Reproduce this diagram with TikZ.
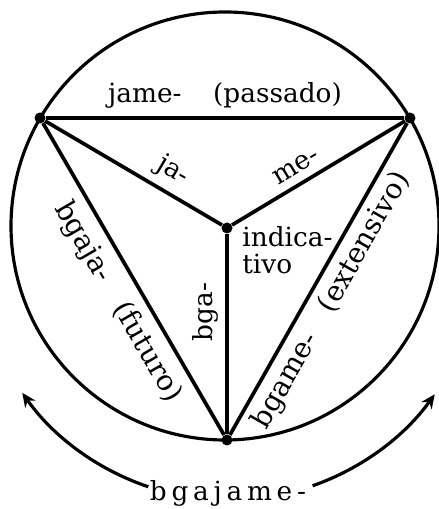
\documentclass[tikz,border=0pt]{standalone}
\usepackage{fontspec}
\setmainfont{DejaVu Serif}
\usepackage{tikz}
\usetikzlibrary{arrows.meta,positioning,calc}
\tikzset{
  lbl/.style  ={font=\fontsize{15}{15.4}\selectfont, inner sep=0pt},
  side/.style ={lbl, font=\fontsize{16}{16}\selectfont},
  edge/.style ={draw=black, line width=2.1pt},
  rim/.style  ={draw=black, line width=1.8pt},
  vtx/.style  ={circle, fill=black, inner sep=0pt, minimum size=0.22cm},
  arr/.style  ={draw=black, line width=1.8pt, -{Stealth[length=2.8mm,width=2.5mm]}},
}
\newcommand{\lsp}{\kern.18em}

\begin{document}
\begin{tikzpicture}[x=0.2mm,y=0.2mm]
  \useasboundingbox (0,0) rectangle (438,509);
  % outer circle with the three corners on it, centre point inside
  \def\R{214}
  \coordinate (o) at (225,283);
  \draw[rim] (o) circle[radius=\R];
  \node[vtx] (pa) at (40,391) {};
  \node[vtx] (pb) at (410,391) {};
  \node[vtx] (pc) at (227,69) {};
  \node[vtx] (pm) at (227,281) {};

  % ---------------- triangle sides ------------------------------------------
  \draw[edge] (pa) -- node[lbl,above=1.6mm] {jame-\hspace{1.2em}(passado)} (pb);
  \draw[edge] (pa) -- node[side,pos=.534,sloped,below=1.9mm] {bgaja-\quad(futuro)} (pc);
  \draw[edge] (pc) -- node[side,pos=.466,sloped,below=1.3mm] {bgame-\quad(extensivo)} (pb);

  % ---------------- spokes to the centre ------------------------------------
  \draw[edge] (pa) -- node[lbl,pos=.66,sloped,above=1.5mm] {ja-} (pm);
  \draw[edge] (pm) -- node[lbl,pos=.42,sloped,above=1.5mm] {me-} (pb);
  \draw[edge] (pc) -- node[lbl,pos=.61,sloped,above=1.4mm] {bga-} (pm);
  \node[lbl,anchor=north west,align=left] (ind) at (242,283) {indica-\\tivo};

  % ---------------- arc round the bottom ------------------------------------
  \coordinate (bc) at (229,262);
  \node[lbl,anchor=base] (all) at (228,9) {b\lsp g\lsp a\lsp j\lsp a\lsp m\lsp e\lsp -};
  \coordinate (lgap) at ($(bc)+(251.4:253)$);
  \coordinate (rgap) at ($(bc)+(289.3:253)$);
  \draw[arr] (lgap) arc[start angle=251.4, end angle=215.2, radius=253];
  \draw[arr] (rgap) arc[start angle=289.3, end angle=324.4, radius=253];
\end{tikzpicture}
\end{document}
